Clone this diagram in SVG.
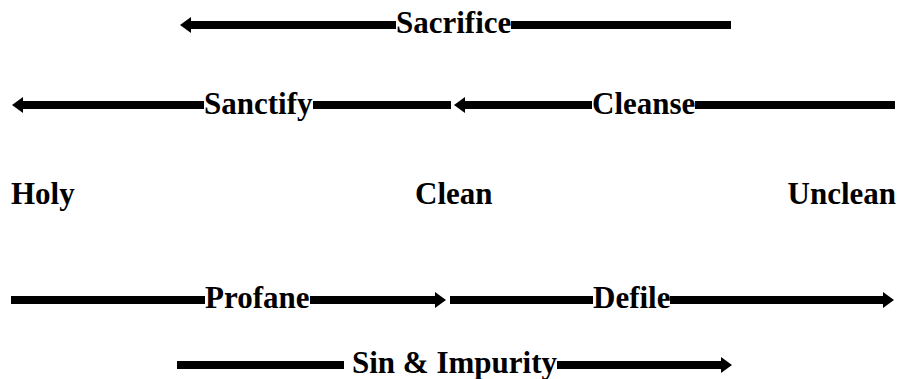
<svg xmlns="http://www.w3.org/2000/svg" width="901" height="379" viewBox="0 0 901 379">
<style>
  text { font-family: "Liberation Serif", "Times New Roman", serif; font-weight: bold; font-size: 31px; fill: #000; }
  .seg { stroke: #000; stroke-width: 8; fill: none; }
  .arr { stroke: #000; stroke-width: 8; fill: none; marker-end: url(#head); }
</style>
<defs>
  <marker id="head" markerUnits="userSpaceOnUse" markerWidth="12" markerHeight="16" refX="1" refY="8" orient="auto">
    <path d="M0,0 L11,8 L0,16 Z" fill="#000"/>
  </marker>
</defs>
<rect width="901" height="379" fill="#fff"/>
<g id="nodes">
  <g id="holy"><text x="11" y="204">Holy</text></g>
  <g id="clean"><text x="415" y="204">Clean</text></g>
  <g id="unclean"><text x="896" y="204" text-anchor="end">Unclean</text></g>
</g>
<g id="connectors">
  <g id="sacrifice">
    <path class="arr" d="M396,25 H190"/>
    <path class="seg" d="M511,25 H731"/>
    <text x="396" y="33">Sacrifice</text>
  </g>
  <g id="sanctify">
    <path class="arr" d="M204,105 H22"/>
    <path class="seg" d="M313,105 H451"/>
    <text x="204" y="114">Sanctify</text>
  </g>
  <g id="cleanse">
    <path class="arr" d="M592,105 H464"/>
    <path class="seg" d="M695,105 H895"/>
    <text x="592" y="114">Cleanse</text>
  </g>
  <g id="profane">
    <path class="seg" d="M11,300 H205"/>
    <path class="arr" d="M310,300 H436"/>
    <text x="205" y="308">Profane</text>
  </g>
  <g id="defile">
    <path class="seg" d="M450,300 H593"/>
    <path class="arr" d="M670,300 H884"/>
    <text x="593" y="308">Defile</text>
  </g>
  <g id="sin">
    <path class="seg" d="M177,365 H344"/>
    <path class="arr" d="M557,365 H722"/>
    <text x="352" y="373">Sin &amp; Impurity</text>
  </g>
</g>
</svg>
